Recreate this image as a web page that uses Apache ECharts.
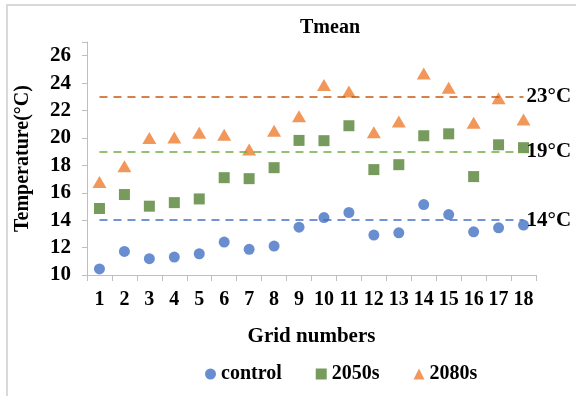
<!DOCTYPE html>
<html>
<head>
<meta charset="utf-8">
<script src="https://cdn.jsdelivr.net/npm/echarts@6/dist/echarts.min.js"></script>
<style>
  html, body { margin: 0; padding: 0; background: #fff; }
  #main { width: 576px; height: 396px; }
</style>
</head>
<body>
<div id="main"></div>
<script>
var grids = ['1','2','3','4','5','6','7','8','9','10','11','12','13','14','15','16','17','18'];
var control = [10.44, 11.72, 11.19, 11.31, 11.55, 12.4, 11.87, 12.11, 13.49, 14.19, 14.56, 12.91, 13.08, 15.14, 14.41, 13.15, 13.44, 13.64];
var s2050 = [14.85, 15.87, 15.02, 15.28, 15.55, 17.1, 17.03, 17.83, 19.82, 19.8, 20.89, 17.69, 18.05, 20.16, 20.3, 17.18, 19.5, 19.29];
var s2080 = [16.79, 17.93, 19.99, 20.04, 20.37, 20.23, 19.16, 20.52, 21.59, 23.87, 23.38, 20.42, 21.2, 24.71, 23.67, 21.1, 22.9, 21.35];
var refLines = [14, 19, 23];

var font = 'Liberation Serif, Times New Roman, serif';

function refLine(v, color) {
  return {
    silent: true,
    symbol: 'none',
    lineStyle: { type: [8, 6], color: color, width: 1.5 },
    label: {
      show: true,
      position: 'end',
      distance: 3,
      formatter: v + '°C',
      color: '#000',
      fontFamily: font,
      fontWeight: 'bold',
      fontSize: 21
    },
    data: [[{ coord: [grids[0], v] }, { coord: [grids[grids.length - 1], v] }]]
  };
}

var myChart = echarts.init(document.getElementById('main'));
myChart.setOption({
  animation: false,
  textStyle: { fontFamily: font },
  title: {
    text: 'Tmean',
    left: 325,
    textAlign: 'center',
    top: 13,
    textStyle: { fontFamily: font, fontWeight: 'bold', fontSize: 20, color: '#000' }
  },
  graphic: [{
    type: 'rect',
    shape: { x: 7, y: 5, width: 600, height: 420 },
    style: { fill: 'none', stroke: '#d9d9d9', lineWidth: 2 }
  }],
  legend: {
    data: ['control', '2050s', '2080s'],
    left: 200,
    top: 359,
    itemWidth: 11,
    itemHeight: 11,
    itemGap: 34,
    textStyle: { fontFamily: font, fontWeight: 'bold', fontSize: 20, color: '#000' }
  },
  grid: { left: 87, right: 40, top: 42, bottom: 121, containLabel: false },
  xAxis: {
    type: 'category',
    data: grids,
    boundaryGap: true,
    name: 'Grid numbers',
    nameLocation: 'middle',
    nameGap: 51,
    nameTextStyle: { fontFamily: font, fontWeight: 'bold', fontSize: 21, color: '#000' },
    axisLine: { lineStyle: { color: '#bfbfbf', width: 1 } },
    axisTick: { show: true, alignWithLabel: false, length: 6, lineStyle: { color: '#bfbfbf' } },
    axisLabel: { interval: 0, margin: 15, fontFamily: font, fontWeight: 'bold', fontSize: 20, color: '#000' },
    splitLine: { show: false }
  },
  yAxis: {
    type: 'value',
    min: 10,
    max: 27,
    interval: 2,
    name: 'Temperature(°C)',
    nameLocation: 'middle',
    nameGap: 54,
    nameTextStyle: { fontFamily: font, fontWeight: 'bold', fontSize: 20, color: '#000' },
    axisLine: { show: true, lineStyle: { color: '#bfbfbf', width: 1 } },
    axisTick: { show: true, length: 5, lineStyle: { color: '#bfbfbf' } },
    axisLabel: {
      margin: 16,
      fontFamily: font, fontWeight: 'bold', fontSize: 21, color: '#000',
      formatter: function (v) { return v % 2 === 0 ? v : ''; }
    },
    splitLine: { show: false }
  },
  series: [
    {
      name: 'control',
      type: 'scatter',
      symbol: 'circle',
      symbolSize: 11,
      itemStyle: { color: '#4472C4' },
      data: control,
      markLine: refLine(refLines[0], '#4472C4')
    },
    {
      name: '2050s',
      type: 'scatter',
      symbol: 'rect',
      symbolSize: 11,
      itemStyle: { color: '#548235' },
      data: s2050,
      markLine: refLine(refLines[1], '#70AD47')
    },
    {
      name: '2080s',
      type: 'scatter',
      symbol: 'triangle',
      symbolSize: [14, 12],
      itemStyle: { color: '#ED7D31' },
      data: s2080,
      markLine: refLine(refLines[2], '#C55A11')
    }
  ]
});
</script>
</body>
</html>
